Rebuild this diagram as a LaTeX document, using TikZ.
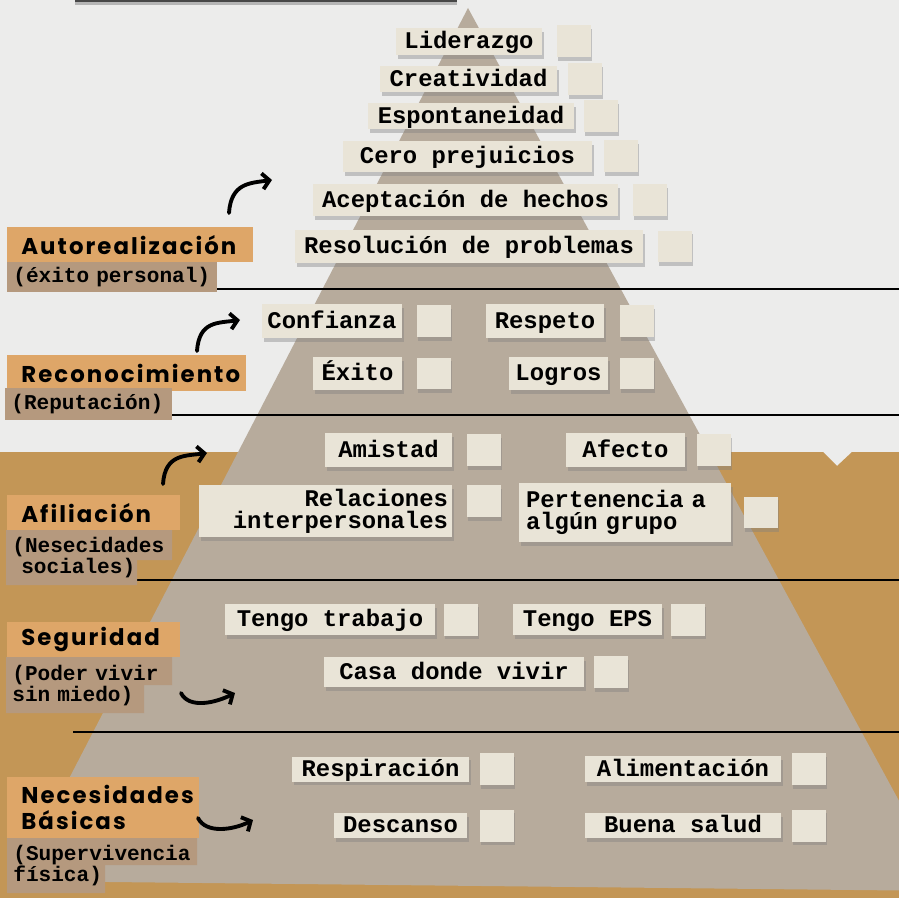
\documentclass[tikz,border=0pt]{standalone}
\usepackage{fontspec}
\newfontfamily\monofnt{Liberation Mono}
\newfontfamily\sansfnt[LetterSpace=9]{Poppins}
\usetikzlibrary{positioning,shadows,arrows.meta}

\definecolor{paper}{RGB}{236,236,235}
\definecolor{kraft}{RGB}{195,150,86}
\definecolor{pyr}{RGB}{183,171,156}
\definecolor{tagfill}{RGB}{233,228,215}
\definecolor{lvlfill}{RGB}{222,166,104}
\definecolor{subfill}{RGB}{181,153,126}

\tikzset{
  tagbase/.style={fill=tagfill, inner sep=0pt,
    font=\monofnt\bfseries\fontsize{13.6}{12.6}\selectfont,
    drop shadow={shadow xshift=1pt, shadow yshift=-2pt, opacity=.4}},
  tag/.style={tagbase, text height=9.5pt, text depth=1.5pt},
  chkbox/.style={fill=tagfill, inner sep=0pt, minimum width=0.68cm, minimum height=0.64cm,
    drop shadow={shadow xshift=1pt, shadow yshift=-2pt, opacity=.4}},
  lvlbox/.style={fill=lvlfill, anchor=north west, inner xsep=0.28cm, inner ysep=0pt, align=left,
    font=\sansfnt\bfseries\fontsize{13}{14.7}\selectfont},
  subbox/.style={fill=subfill, anchor=north west, inner xsep=0.12cm, inner ysep=0pt, align=left,
    font=\monofnt\bfseries\fontsize{12}{11.9}\selectfont},
  hook/.style={line width=2.2pt, line cap=round, -{Straight Barb[length=4pt,width=9pt]}},
  sep/.style={line width=1.4pt}
}

\begin{document}
\begin{tikzpicture}[x=0.02cm, y=-0.02cm]
  \useasboundingbox (0,0) rectangle (899,898);
  \clip (0,0) rectangle (899,898);

  % background
  \fill[paper] (0,0) rectangle (899,898);
  \fill[kraft] (0,452) -- (823,452) -- (837,466) -- (852,452) -- (899,452) -- (899,898) -- (0,898) -- cycle;
  \fill[black!72, drop shadow={shadow xshift=0pt, shadow yshift=-1.5pt, opacity=.5}] (75,-5) rectangle (457,2);

  % pyramid
  \fill[pyr] (468,8) -- (948,891) -- (16,881) -- cycle;

  % separators
  \draw[sep] (73,289) -- (899,289);
  \draw[sep] (100,415) -- (899,415);
  \draw[sep] (100,580) -- (899,580);
  \draw[sep] (73,732) -- (899,732);

  % levels
  \node[lvlbox, text width=4.36cm, minimum height=0.7cm] (auto) at (7,227) {Autorealización};
  \node[subbox, text width=3.96cm, minimum height=0.6cm] (auto-sub) at (7,262) {(éxito personal)};

  \node[lvlbox, text width=4.22cm, minimum height=0.72cm] (reco) at (7,355) {Reconocimiento};
  \node[subbox, text width=3.1cm, minimum height=0.64cm] (reco-sub) at (5,388) {(Reputación)};

  \node[lvlbox, text width=2.9cm, minimum height=0.7cm] (afil) at (7,495) {Afiliación};
  \fill[subfill] (6,530) -- (172,530) -- (172,560) -- (137,560) -- (137,585) -- (6,585) -- cycle;
  \node[subbox, fill=none, text width=3.08cm, minimum height=1.1cm] (afil-sub) at (6,530)
    {(Nesecidades\\\hspace*{0.18cm}sociales)};

  \node[lvlbox, text width=2.9cm, minimum height=0.7cm] (segu) at (7,622) {Seguridad};
  \fill[subfill] (6,657) -- (172,657) -- (172,685) -- (144,685) -- (144,713) -- (6,713) -- cycle;
  \node[subbox, fill=none, text width=3.08cm, minimum height=1.12cm] (segu-sub) at (6,657)
    {(Poder vivir\\sin miedo)};

  \node[lvlbox, text width=3.28cm, minimum height=1.22cm] (basi) at (7,777) {Necesidades\\Básicas};
  \fill[subfill] (7,838) -- (197,838) -- (197,865) -- (105,865) -- (105,893) -- (7,893) -- cycle;
  \node[subbox, fill=none, text width=3.56cm, minimum height=1.1cm] (basi-sub) at (7,838)
    {(Supervivencia\\física)};

  % hooks
  \coordinate (h1a) at (229,213); \coordinate (h1b) at (272,180);
  \coordinate (h2a) at (197,351); \coordinate (h2b) at (240,320);
  \coordinate (h3a) at (163,484); \coordinate (h3b) at (207,453);
  \coordinate (h4a) at (181,693); \coordinate (h4b) at (235,693);
  \coordinate (h5a) at (198,818); \coordinate (h5b) at (253,820);
  \draw[hook] (h1a) .. controls +(2,-30) and +(-22,3) .. (h1b);
  \draw[hook] (h2a) .. controls +(2,-30) and +(-22,3) .. (h2b);
  \draw[hook] (h3a) .. controls +(2,-30) and +(-22,3) .. (h3b);
  \draw[hook] (h4a) .. controls +(8,16) and +(-20,10) .. (h4b);
  \draw[hook] (h5a) .. controls +(8,16) and +(-20,10) .. (h5b);

  % autorealizacion
  \node[tag, minimum width=2.92cm, minimum height=0.54cm] (lid) at (469,41.5) {Liderazgo};
  \node[chkbox, right=0.28cm of lid] (lid-c) {};
  \node[tag, minimum width=3.54cm, minimum height=0.52cm] (cre) at (468.5,79) {Creatividad};
  \node[chkbox, right=0.2cm of cre] (cre-c) {};
  \node[tag, minimum width=4.12cm, minimum height=0.52cm] (esp) at (471,116) {Espontaneidad};
  \node[chkbox, right=0.18cm of esp] (esp-c) {};
  \node[tag, minimum width=4.98cm, minimum height=0.62cm] (cer) at (467.5,156.5) {Cero prejuicios};
  \node[chkbox, right=0.22cm of cer] (cer-c) {};
  \node[tag, minimum width=6.1cm, minimum height=0.64cm] (ace) at (465.5,200) {Aceptación de hechos};
  \node[chkbox, right=0.28cm of ace] (ace-c) {};
  \node[tag, minimum width=6.96cm, minimum height=0.66cm] (res) at (469,246.5) {Resolución de problemas};
  \node[chkbox, right=0.28cm of res] (res-c) {};

  % reconocimiento
  \node[tag, minimum width=2.8cm, minimum height=0.68cm] (con) at (332,321) {Confianza};
  \node[chkbox, right=0.28cm of con] (con-c) {};
  \node[tag, minimum width=2.36cm, minimum height=0.68cm] (rsp) at (545,321) {Respeto};
  \node[chkbox, right=0.3cm of rsp] (rsp-c) {};
  \node[tag, minimum width=1.78cm, minimum height=0.66cm] (exi) at (357.5,373.5) {Éxito};
  \node[chkbox, right=0.28cm of exi] (exi-c) {};
  \node[tag, minimum width=1.98cm, minimum height=0.66cm] (log) at (558.5,373.5) {Logros};
  \node[chkbox, right=0.22cm of log] (log-c) {};

  % afiliacion
  \node[tag, minimum width=2.54cm, minimum height=0.68cm] (ami) at (388.5,450) {Amistad};
  \node[chkbox, right=0.28cm of ami] (ami-c) {};
  \node[tag, minimum width=2.38cm, minimum height=0.68cm] (afe) at (625.5,450) {Afecto};
  \node[chkbox, right=0.22cm of afe] (afe-c) {};
  \node[tagbase, text width=4.9cm, inner xsep=0.08cm, align=right, minimum height=1.04cm] (rel) at (325.5,511)
    {Relaciones\\interpersonales};
  \node[chkbox, right=0.28cm of rel.north east, anchor=north west] (rel-c) {};
  \node[tagbase, text width=3.96cm, inner xsep=0.14cm, align=left, minimum height=1.18cm] (per) at (625,512.5)
    {Pertenencia a\\algún grupo};
  \node[chkbox, right=0.24cm of per] (per-c) {};

  % seguridad
  \node[tag, minimum width=4.2cm, minimum height=0.62cm] (tra) at (330,619.5) {Tengo trabajo};
  \node[chkbox, right=0.16cm of tra] (tra-c) {};
  \node[tag, minimum width=2.98cm, minimum height=0.62cm] (eps) at (587.5,619.5) {Tengo EPS};
  \node[chkbox, right=0.16cm of eps] (eps-c) {};
  \node[tag, minimum width=5.2cm, minimum height=0.6cm] (cas) at (454,672) {Casa donde vivir};
  \node[chkbox, right=0.18cm of cas] (cas-c) {};

  % basicas
  \node[tag, minimum width=3.54cm, minimum height=0.5cm] (rspi) at (380.5,769) {Respiración};
  \node[chkbox, right=0.2cm of rspi] (rspi-c) {};
  \node[tag, minimum width=3.92cm, minimum height=0.52cm] (ali) at (683,769) {Alimentación};
  \node[chkbox, right=0.2cm of ali] (ali-c) {};
  \node[tag, minimum width=2.66cm, minimum height=0.5cm] (des) at (400.5,825.5) {Descanso};
  \node[chkbox, right=0.24cm of des] (des-c) {};
  \node[tag, minimum width=3.92cm, minimum height=0.5cm] (sal) at (683,825.5) {Buena salud};
  \node[chkbox, right=0.2cm of sal] (sal-c) {};
\end{tikzpicture}
\end{document}
